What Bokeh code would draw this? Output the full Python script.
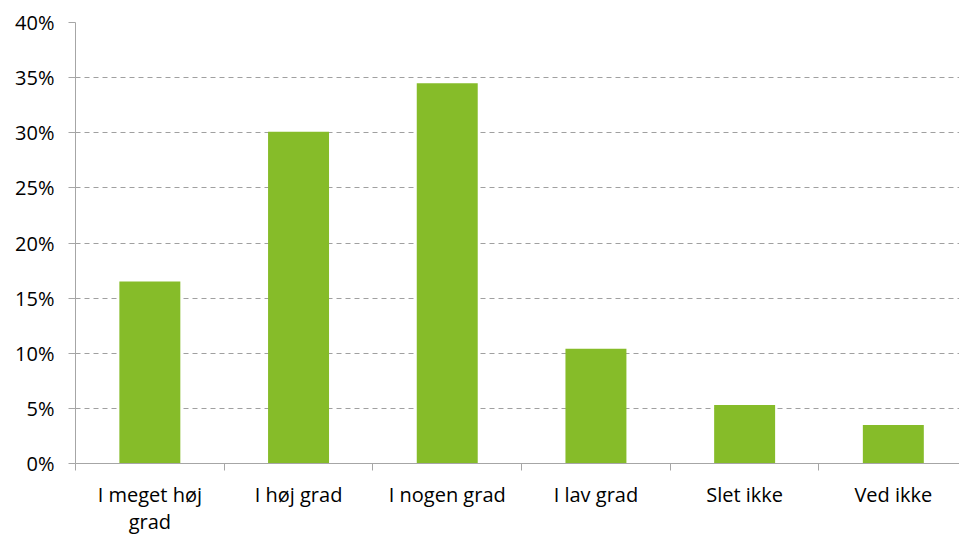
from bokeh.plotting import figure
from bokeh.models import Range1d, FixedTicker, NumeralTickFormatter, ColumnDataSource
from bokeh.embed import file_html
from bokeh.resources import INLINE

categories = ["I meget høj\ngrad", "I høj grad", "I nogen grad", "I lav grad", "Slet ikke", "Ved ikke"]
values = [0.165, 0.301, 0.345, 0.104, 0.053, 0.035]
y_ticks = [0.0, 0.05, 0.10, 0.15, 0.20, 0.25, 0.30, 0.35, 0.40]

xs = [i + 0.5 for i in range(len(categories))]
src = ColumnDataSource(dict(x=xs, top=values))

FONT = "Open Sans"
GREY = "#A6A6A6"

p = figure(frame_width=884, frame_height=441, output_backend="svg", toolbar_location=None,
           x_range=Range1d(0, 5.945), y_range=Range1d(0, 0.40),
           min_border_left=75, min_border_top=22, min_border_right=0, min_border_bottom=71)
p.outline_line_color = None

p.vbar(x="x", top="top", width=0.41, source=src, color="#86BC29", line_color=None)

# y axis
p.yaxis.ticker = FixedTicker(ticks=y_ticks)
p.yaxis.formatter = NumeralTickFormatter(format="0%")
p.yaxis.axis_line_color = GREY
p.yaxis.major_tick_line_color = GREY
p.yaxis.major_tick_out = 7
p.yaxis.major_tick_in = 0
p.yaxis.minor_tick_line_color = None
p.yaxis.major_label_text_font = FONT
p.yaxis.major_label_text_font_size = "20px"
p.yaxis.major_label_text_color = "#000000"
p.yaxis.major_label_standoff = 14

# x axis
p.xaxis.ticker = FixedTicker(ticks=xs, minor_ticks=list(range(len(categories))))
p.xaxis.major_label_overrides = {x: c for x, c in zip(xs, categories)}
p.xaxis.axis_line_color = GREY
p.xaxis.major_tick_line_color = None
p.xaxis.minor_tick_line_color = GREY
p.xaxis.minor_tick_out = 7
p.xaxis.minor_tick_in = 0
p.xaxis.major_label_text_font = FONT
p.xaxis.major_label_text_font_size = "20px"
p.xaxis.major_label_text_color = "#000000"
p.xaxis.major_label_text_line_height = 1.0
p.xaxis.major_label_standoff = 10

# grid
p.xgrid.grid_line_color = None
p.ygrid.ticker = FixedTicker(ticks=y_ticks[1:])
p.ygrid.grid_line_color = "#A0A0A0"
p.ygrid.grid_line_dash = "5 4"
p.ygrid.grid_line_width = 1

open("out.html", "w").write(file_html(p, INLINE))
